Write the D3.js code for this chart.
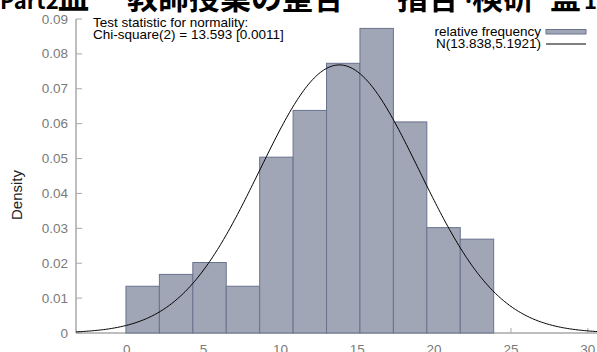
<!DOCTYPE html>
<html><head><meta charset="utf-8">
<script src="https://cdn.jsdelivr.net/npm/d3@7"></script>
<style>
html,body{margin:0;padding:0;background:#fff;overflow:hidden;}
svg{display:block;}
</style></head>
<body>
<script>
// ---- data ----
const binStart = -0.05;
const binWidth = 2.175;
const densities = [0.0134, 0.0168, 0.0202, 0.0134, 0.0504, 0.0638, 0.0773, 0.0873, 0.0605, 0.0302, 0.0269];
const normMean = 13.838;
const normSd = 5.1921;
const xTicks = [0, 5, 10, 15, 20, 25, 30];
const yTicks = [0, 0.01, 0.02, 0.03, 0.04, 0.05, 0.06, 0.07, 0.08, 0.09];
const yTickLabels = ["0", "0.01", "0.02", "0.03", "0.04", "0.05", "0.06", "0.07", "0.08", "0.09"];
const legendLabels = ["relative frequency", "N(13.838,5.1921)"];
const statLines = ["Test statistic for normality:", "Chi-square(2) = 13.593 [0.0011]"];
const titleParts = [
  {t: "Part2", x: 0, s: 22}, {t: "皿", x: 58, s: 31}, {t: "ー", x: 102, s: 31},
  {t: "教師授業の整合", x: 127, s: 31},
  {t: "指合", x: 397, s: 31}, {t: "·", x: 462, s: 22}, {t: "検研", x: 472, s: 31},
  {t: "監", x: 550, s: 31}, {t: "1", x: 584, s: 22}
];

const W = 597, H = 352;
const svg = d3.select("body").append("svg").attr("width", W).attr("height", H);
const font = "'Liberation Sans', Arial, Helvetica, sans-serif";

const x = d3.scaleLinear().domain([-3.3, 31]).range([76, 76 + 34.3 * 15.37]);
const y = d3.scaleLinear().domain([0, 0.09]).range([333, 19]);

// title fragment (cut off at top)
svg.append("g").selectAll("text").data(titleParts).join("text")
  .attr("x", d => d.x).attr("y", 8.5)
  .attr("font-family", "'Noto Sans CJK JP', sans-serif")
  .attr("font-weight", "bold").attr("font-size", d => d.s).attr("fill", "#000")
  .text(d => d.t);

// axes
const axisColor = "#a8a8a8";
const labColor = "#7a7a7a";
svg.append("line").attr("x1", 76).attr("x2", W).attr("y1", y(0)).attr("y2", y(0))
  .attr("stroke", axisColor).attr("stroke-width", 1.5);
svg.append("g").selectAll("line").data(xTicks).join("line")
  .attr("x1", d => x(d)).attr("x2", d => x(d))
  .attr("y1", y(0)).attr("y2", y(0) - 5)
  .attr("stroke", axisColor);
svg.append("g").selectAll("text").data(xTicks).join("text")
  .attr("x", d => x(d)).attr("y", 354)
  .attr("text-anchor", "middle").attr("font-family", font).attr("font-size", 13.5)
  .attr("fill", labColor).text(d => d);

svg.append("line").attr("x1", 76).attr("x2", 76).attr("y1", y(0.09)).attr("y2", y(0))
  .attr("stroke", axisColor).attr("stroke-width", 1.5);
svg.append("g").selectAll("line").data(yTicks).join("line")
  .attr("x1", 76).attr("x2", 82)
  .attr("y1", d => y(d)).attr("y2", d => y(d))
  .attr("stroke", axisColor);
svg.append("g").selectAll("text").data(yTicks).join("text")
  .attr("x", 68).attr("y", d => y(d) + 4.5)
  .attr("text-anchor", "end").attr("font-family", font).attr("font-size", 13.5)
  .attr("fill", labColor).text((d, i) => yTickLabels[i]);

svg.append("text").attr("transform", "translate(22,195) rotate(-90)")
  .attr("text-anchor", "middle").attr("font-family", font).attr("font-size", 15)
  .attr("fill", "#222").text("Density");

// bars
const barFill = "#a0a6b5", barStroke = "#69738e";
svg.append("g").selectAll("rect").data(densities).join("rect")
  .attr("x", (d, i) => x(binStart + i * binWidth))
  .attr("width", (d, i) => x(binStart + (i + 1) * binWidth) - x(binStart + i * binWidth))
  .attr("y", d => y(d))
  .attr("height", d => y(0) - y(d))
  .attr("fill", barFill).attr("stroke", barStroke).attr("stroke-width", 1);

// normal curve from the stated parameters
const pdf = v => Math.exp(-0.5 * ((v - normMean) / normSd) ** 2) / (normSd * Math.sqrt(2 * Math.PI));
const xs = d3.range(-3.3, 31.01, 0.1);
svg.append("path").datum(xs)
  .attr("d", d3.line().x(v => x(v)).y(v => y(pdf(v))))
  .attr("fill", "none").attr("stroke", "#000").attr("stroke-width", 1);

// stat text
svg.append("g").selectAll("text").data(statLines).join("text")
  .attr("x", 93).attr("y", (d, i) => 27 + i * 12)
  .attr("font-family", font).attr("font-size", 13.5).attr("fill", "#000")
  .text(d => d);

// legend
svg.append("g").selectAll("text").data(legendLabels).join("text")
  .attr("x", 541).attr("y", (d, i) => 35.5 + i * 12)
  .attr("text-anchor", "end").attr("font-family", font).attr("font-size", 13.5)
  .attr("fill", "#000").text(d => d);
svg.append("rect").attr("x", 546).attr("y", 29.5).attr("width", 40).attr("height", 4.5)
  .attr("fill", barFill).attr("stroke", barStroke).attr("stroke-width", 1);
svg.append("line").attr("x1", 546).attr("x2", 586).attr("y1", 44).attr("y2", 44)
  .attr("stroke", "#000").attr("stroke-width", 1);
</script>
</body></html>
